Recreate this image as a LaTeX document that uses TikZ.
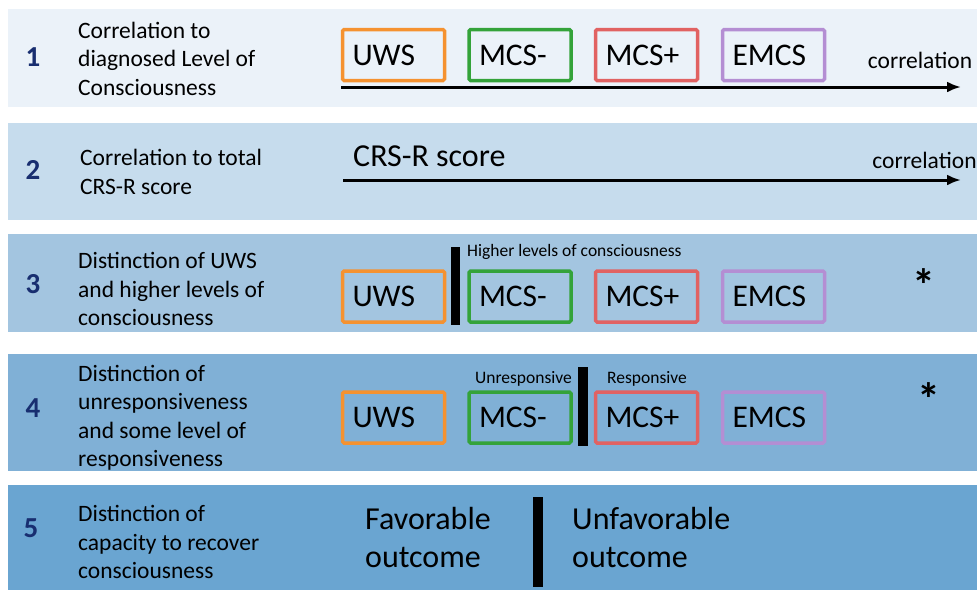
\documentclass[tikz,border=0pt]{standalone}
\usepackage{fontspec}
\setmainfont{Carlito}
\usetikzlibrary{arrows.meta}
\definecolor{bandA}{RGB}{235,242,249}
\definecolor{bandB}{RGB}{198,220,237}
\definecolor{bandC}{RGB}{163,197,224}
\definecolor{bandD}{RGB}{128,176,214}
\definecolor{bandE}{RGB}{106,165,209}
\definecolor{numblue}{RGB}{24,46,112}
\definecolor{uwscol}{RGB}{245,146,48}
\definecolor{mcsmcol}{RGB}{52,163,58}
\definecolor{mcspcol}{RGB}{225,98,98}
\definecolor{emcscol}{RGB}{180,142,211}
\tikzset{
  num/.style={font=\fontsize{29}{30}\selectfont\bfseries, text=numblue},
  desc/.style={anchor=west, align=left, inner sep=0pt, font=\fontsize{23.5}{28.5}\selectfont},
  lvl/.style={draw, line width=3.5pt, rounded corners=1.5pt, minimum width=102pt,
    minimum height=51pt, inner xsep=10pt, text width=82pt, align=left,
    font=\fontsize{31.5}{34}\selectfont},
  small/.style={inner sep=0pt, font=\fontsize{17.5}{19}\selectfont},
  corr/.style={inner sep=0pt, font=\fontsize{23.5}{25}\selectfont},
  big/.style={anchor=west, align=left, inner sep=0pt, font=\fontsize{32}{38}\selectfont},
  corrarrow/.style={line width=3pt, -{Latex[length=14pt,width=11pt]}},
  star/.style={inner sep=0pt, font=\fontsize{46}{48}\selectfont\bfseries}
}
\begin{document}
\begin{tikzpicture}[x=1pt,y=-1pt]
\useasboundingbox[fill=white] (0,0) rectangle (977,590);
% bands
\fill[bandA] (8,9) rectangle (977,107);
\fill[bandB] (8,123) rectangle (977,220);
\fill[bandC] (8,234) rectangle (977,332);
\fill[bandD] (8,354) rectangle (977,471);
\fill[bandE] (8,485) rectangle (977,590);

% 1
\node[num] (num1) at (33,57) {1};
\node[desc] (desc1) at (78,58.5) {Correlation to\\diagnosed Level of\\Consciousness};
\node[lvl, uwscol] (uws1) at (393.5,55) {\textcolor{black}{UWS}};
\node[lvl, mcsmcol] (mcsm1) at (520,55) {\textcolor{black}{MCS-}};
\node[lvl, mcspcol] (mcsp1) at (646.5,55) {\textcolor{black}{MCS+}};
\node[lvl, emcscol] (emcs1) at (773.5,55) {\textcolor{black}{EMCS}};
\node[corr] (corr1) at (920,60) {correlation};
\coordinate (ar1s) at (341,87);
\coordinate (ar1e) at (961,87);
\draw[corrarrow] (ar1s) -- (ar1e);

% 2
\node[num] (num2) at (33,170) {2};
\node[desc] (desc2) at (80,172) {Correlation to total\\CRS-R score};
\node[anchor=west, inner sep=0pt, font=\fontsize{32}{34}\selectfont] (crs) at (353,156) {CRS-R score};
\node[corr] (corr2) at (924.5,160) {correlation};
\coordinate (ar2s) at (343,180);
\coordinate (ar2e) at (961,180);
\draw[corrarrow] (ar2s) -- (ar2e);

% 3
\node[num] (num3) at (33,284) {3};
\node[desc] (desc3) at (78,289) {Distinction of UWS\\and higher levels of\\consciousness};
\node[lvl, uwscol] (uws3) at (393.5,296.5) {\textcolor{black}{UWS}};
\node[lvl, mcsmcol] (mcsm3) at (520,296.5) {\textcolor{black}{MCS-}};
\node[lvl, mcspcol] (mcsp3) at (646.5,296.5) {\textcolor{black}{MCS+}};
\node[lvl, emcscol] (emcs3) at (773.5,296.5) {\textcolor{black}{EMCS}};
\fill (451,247) rectangle (460,325);
\node[small, anchor=west] (higher) at (467,252) {Higher levels of consciousness};
\node[star] (star3) at (924,285) {*};

% 4
\node[num] (num4) at (33,408) {4};
\node[desc] (desc4) at (78,418) {Distinction of\\unresponsiveness\\and some level of\\responsiveness};
\node[lvl, uwscol] (uws4) at (393.5,417.5) {\textcolor{black}{UWS}};
\node[lvl, mcsmcol] (mcsm4) at (520,417.5) {\textcolor{black}{MCS-}};
\node[lvl, mcspcol] (mcsp4) at (646.5,417.5) {\textcolor{black}{MCS+}};
\node[lvl, emcscol] (emcs4) at (773.5,417.5) {\textcolor{black}{EMCS}};
\fill (578,367) rectangle (588,446);
\node[small] (unresp) at (523.5,379) {Unresponsive};
\node[small, anchor=west] (resp) at (607,379) {Responsive};
\node[star] (star4) at (929,399) {*};

% 5
\node[num] (num5) at (31,528) {5};
\node[desc] (desc5) at (78,542) {Distinction of\\capacity to recover\\consciousness};
\node[big] (fav) at (365,537) {Favorable\\outcome};
\fill (533,497) rectangle (543,587);
\node[big] (unfav) at (572,537) {Unfavorable\\outcome};
\end{tikzpicture}
\end{document}
